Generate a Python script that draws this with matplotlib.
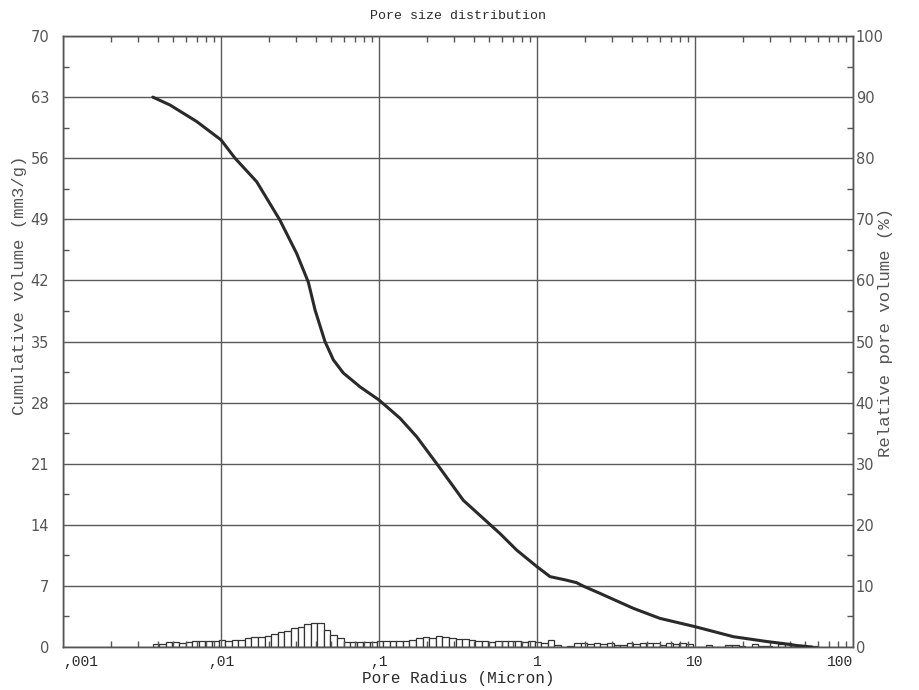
import numpy as np
import matplotlib
matplotlib.use("Agg")
import matplotlib.pyplot as plt
from matplotlib.ticker import FixedLocator, NullFormatter, MultipleLocator

# Cumulative intrusion curve: pore radius (micron) vs cumulative volume (mm3/g)
radius = [0.0037, 0.00475, 0.00702, 0.0100, 0.01227, 0.01683, 0.0236, 0.0301,
          0.0357, 0.0394, 0.0455, 0.0514, 0.0594, 0.0759, 0.100, 0.136, 0.173,
          0.232, 0.342, 0.583, 0.744, 1.00, 1.21, 1.50, 1.78, 1.95,
          2.50, 4.07, 6.0, 10.0, 17.5, 28.4, 36.0, 45.0, 55.0]
cum_volume = [63.0, 62.1, 60.2, 58.1, 56.0, 53.3, 48.9, 45.1,
              41.8, 38.6, 35.0, 32.9, 31.4, 29.8, 28.3, 26.2, 24.1,
              21.0, 16.8, 13.0, 11.1, 9.2, 8.06, 7.7, 7.37, 7.0,
              6.15, 4.43, 3.28, 2.33, 1.18, 0.63, 0.4, 0.15, 0.0]

# Relative pore volume histogram (%), log-spaced classes
bin_start_log = -2.4323
bins_per_decade = 24
rel_volume = [0.55, 0.5, 0.75, 0.75, 0.7, 0.78, 1.0, 1.0, 1.0, 1.05,
              1.1, 1.05, 1.1, 1.15, 1.45, 1.6, 1.6, 1.8, 2.2, 2.45,
              2.67, 3.05, 3.3, 3.7, 3.9, 3.9, 2.8, 1.96, 1.4, 0.76,
              0.76, 0.76, 0.87, 0.76, 1.04, 1.04, 1.04, 1.04, 1.04, 1.2,
              1.4, 1.7, 1.4, 1.85, 1.7, 1.4, 1.3, 1.3, 1.15, 1.04,
              1.04, 0.76, 1.04, 1.04, 1.04, 0.93, 0.76, 0.93, 0.76, 0.6,
              1.15, 0.33, 0.05, 0.1, 0.6, 0.6, 0.45, 0.6, 0.45, 0.6,
              0.33, 0.3, 0.6, 0.5, 0.6, 0.6, 0.6, 0.33, 0.6, 0.45,
              0.6, 0.45, 0.0, 0.0, 0.4, 0.0, 0.0, 0.4, 0.4, 0.15,
              0.0, 0.5, 0.15, 0.2, 0.0, 0.5, 0.6, 0.4, 0.3, 0.2, 0.1]

x_ticks = [0.001, 0.01, 0.1, 1, 10, 100]
x_tick_labels = [",001", ",01", ",1", "1", "10", "100"]
left_ticks = list(range(0, 71, 7))
right_ticks = list(range(0, 101, 10))

mono = "Liberation Mono"
grey = "#555555"
ink = "#2a2a2a"

fig = plt.figure(figsize=(9.19, 6.90), dpi=100)
ax = fig.add_axes([63 / 919, 43 / 690, 790 / 919, 611 / 690])
ax2 = ax.twinx()

# histogram on the right-hand (percent) axis
n = len(rel_volume)
edges = 10 ** (bin_start_log + np.arange(n + 1) / bins_per_decade)
ax2.bar(edges[:-1], rel_volume, width=np.diff(edges), align="edge",
        facecolor="white", edgecolor="#333333", linewidth=0.9, zorder=2)

# cumulative curve on the left-hand axis
ax.set_zorder(ax2.get_zorder() + 1)
ax.patch.set_visible(False)
ax.plot(radius, cum_volume, color=ink, linewidth=2.2, solid_capstyle="round",
        solid_joinstyle="round", zorder=3)

ax.set_xscale("log")
ax.set_xlim(0.001, 100)
ax.set_ylim(0, 70)
ax2.set_ylim(0, 100)

ax.xaxis.set_major_locator(FixedLocator(x_ticks))
ax.set_xticklabels(x_tick_labels, family=mono, fontsize=11.5, color=ink)
minor_x = [m * 10.0 ** d for d in range(-3, 2) for m in range(2, 10)]
ax.xaxis.set_minor_locator(FixedLocator(minor_x))
ax.xaxis.set_minor_formatter(NullFormatter())
labels = ax.get_xticklabels()
labels[0].set_ha("left")
labels[-1].set_ha("right")

ax.set_yticks(left_ticks)
ax.yaxis.set_minor_locator(MultipleLocator(3.5))
ax2.set_yticks(right_ticks)
ax2.yaxis.set_minor_locator(MultipleLocator(5))

for a in (ax, ax2):
    a.tick_params(which="major", length=0, colors=grey, labelsize=10.5)
    a.tick_params(which="minor", length=4, direction="in", color=grey, width=1)
    for s in a.spines.values():
        s.set_color(grey)
        s.set_linewidth(1.0)
ax.tick_params(which="minor", top=True, bottom=True, left=True, right=False)
ax.tick_params(axis="x", which="major", pad=6, labelcolor=ink)
ax.tick_params(axis="y", which="major", pad=10)
ax2.tick_params(axis="y", which="major", pad=2)

ax.grid(True, which="major", color="#5a5a5a", linewidth=1.0)

ax.set_title("Pore size distribution", family=mono, fontsize=9.5, color=ink, pad=12)
ax.set_xlabel("Pore Radius (Micron)", family=mono, fontsize=11.5, color=ink, labelpad=1)
ax.set_ylabel("Cumulative volume (mm3/g)", family=mono, fontsize=12.5, color=grey, labelpad=2)
ax.yaxis.set_label_coords(-0.045, 0.592)
ax2.set_ylabel("Relative pore volume (%)", family=mono, fontsize=12.5, color=grey, labelpad=2)
ax2.yaxis.set_label_coords(1.032, 0.514)

fig.savefig("out.png", dpi=100, facecolor="white")
